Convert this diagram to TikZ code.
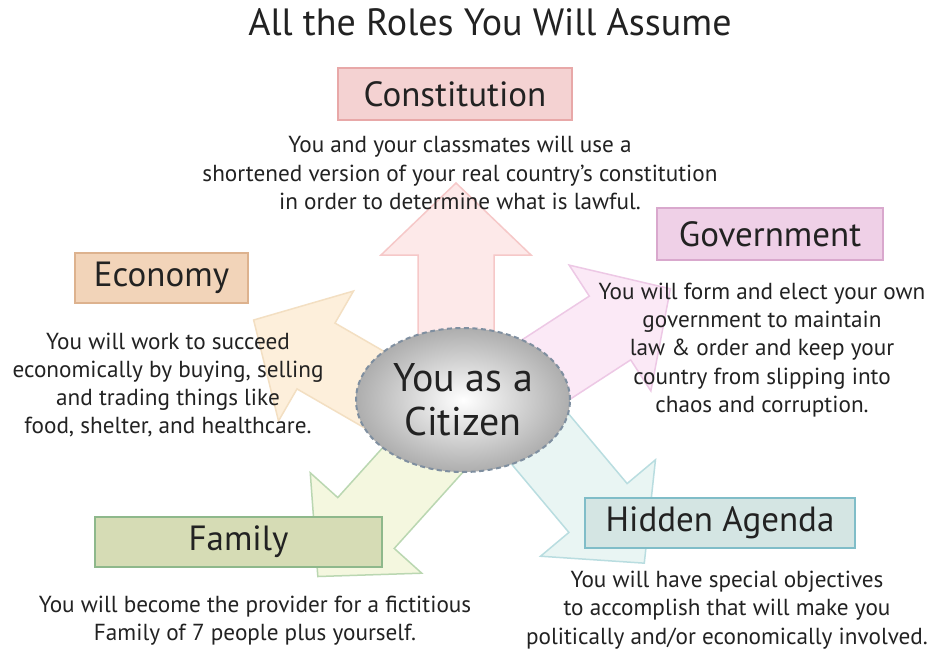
\documentclass[tikz,border=0pt]{standalone}
\usepackage{fontspec}
\setmainfont{PT Sans}
\usetikzlibrary{shapes.geometric}
\definecolor{txt}{HTML}{222222}
\definecolor{conF}{HTML}{F4D2D2}\definecolor{conD}{HTML}{E8A8A8}
\definecolor{conAF}{HTML}{FDE9E9}\definecolor{conAD}{HTML}{F6C8C8}
\definecolor{ecoF}{HTML}{F2D4B9}\definecolor{ecoD}{HTML}{DDB28E}
\definecolor{ecoAF}{HTML}{FDEFDB}\definecolor{ecoAD}{HTML}{F3DFC2}
\definecolor{govF}{HTML}{EFD0E7}\definecolor{govD}{HTML}{D9A8CD}
\definecolor{govAF}{HTML}{FBE9F6}\definecolor{govAD}{HTML}{EDC8E5}
\definecolor{hidF}{HTML}{D4E5E3}\definecolor{hidD}{HTML}{80BDC8}
\definecolor{hidAF}{HTML}{E9F5F3}\definecolor{hidAD}{HTML}{B9DDE0}
\definecolor{famF}{HTML}{D6DCB5}\definecolor{famD}{HTML}{8EB88B}
\definecolor{famAF}{HTML}{F4F7DF}\definecolor{famAD}{HTML}{BAD7B1}
\definecolor{ellD}{HTML}{7F8FA0}
\newcommand{\rolearrow}[4]{%
  \begin{scope}[shift={#1},rotate=#2]
    \draw[fill=#3,draw=#4,line width=1.5pt,line join=miter]
      (-150,-38) -- (0,-38) -- (0,-75) -- (72,0) -- (0,75) -- (0,38) -- (-150,38) -- cycle;
  \end{scope}}
\tikzset{
  rolebox/.style={draw,line width=1.6pt,font={\fontsize{35}{40}\selectfont},text=txt,inner sep=0pt},
  desc/.style={align=center,text=txt,font={\fontsize{23.2}{28.3}\selectfont},inner sep=0pt}
}
\begin{document}
\begin{tikzpicture}[x=1pt,y=1pt]
\useasboundingbox (0,0) rectangle (933,-653);
\fill[white] (0,0) rectangle (933,-653);
% arrows
\rolearrow{(456,-255)}{90}{conAF}{conAD}
\rolearrow{(316,-356)}{150}{ecoAF}{ecoAD}
\rolearrow{(610,-328)}{33}{govAF}{govAD}
\rolearrow{(598,-508)}{-50}{hidAF}{hidAD}
\rolearrow{(366,-523)}{228}{famAF}{famAD}
% centre
\node[ellipse,minimum width=214pt,minimum height=144pt,inner sep=0pt,
      inner color=white,outer color=black!32,draw=ellD,line width=2pt,
      dash pattern=on 5pt off 3.5pt,align=center,text=txt,
      font={\fontsize{40}{44}\selectfont}] (cit) at (463,-400) {You as a\\Citizen};
% title
\node[text=txt,font={\fontsize{38}{44}\selectfont}] (title) at (490,-22) {All the Roles You Will Assume};
% boxes
\node[rolebox,fill=conF,draw=conD,minimum width=234pt,minimum height=52pt] (con) at (455,-94) {Constitution};
\node[rolebox,fill=ecoF,draw=ecoD,minimum width=173pt,minimum height=50pt] (eco) at (161.5,-278) {Economy};
\node[rolebox,fill=govF,draw=govD,minimum width=226pt,minimum height=52pt] (gov) at (770,-234) {Government};
\node[rolebox,fill=famF,draw=famD,minimum width=287pt,minimum height=50pt] (fam) at (238.5,-542) {Family};
\node[rolebox,fill=hidF,draw=hidD,minimum width=270pt,minimum height=50pt] (hid) at (720,-523) {Hidden Agenda};
% descriptions
\node[desc] (conT) at (460,-173) {You and your classmates will use a\\shortened version of your real country’s constitution\\in order to determine what is lawful.};
\node[desc] (ecoT) at (168,-385) {You will work to succeed\\economically by buying, selling\\and trading things like\\food, shelter, and healthcare.};
\node[desc] (govT) at (762,-350) {You will form and elect your own\\government to maintain\\law \& order and keep your\\country from slipping into\\chaos and corruption.};
\node[desc] (famT) at (255,-621) {You will become the provider for a fictitious\\Family of 7 people plus yourself.};
\node[desc] (hidT) at (727,-610) {You will have special objectives\\to accomplish that will make you\\politically and/or economically involved.};
\end{tikzpicture}
\end{document}
